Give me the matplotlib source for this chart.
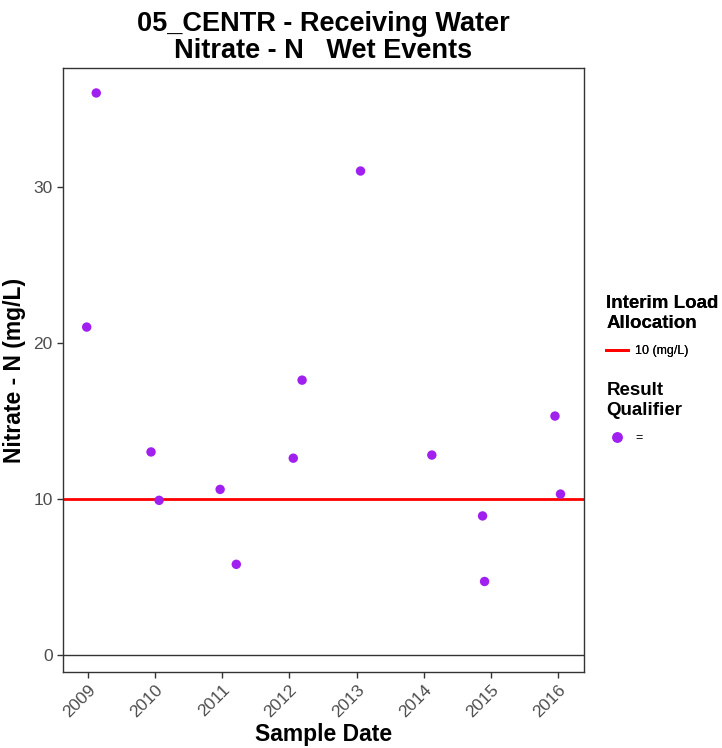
import matplotlib
matplotlib.use("Agg")
import matplotlib.pyplot as plt
import matplotlib.dates as mdates
from matplotlib.lines import Line2D
import pandas as pd

plt.rcParams['font.family'] = ['Liberation Sans', 'DejaVu Sans']

dates = ['2008-12-24', '2009-02-14', '2009-12-09', '2010-01-22', '2010-12-20',
         '2011-03-18', '2012-01-22', '2012-03-10', '2013-01-22', '2014-02-14',
         '2014-11-17', '2014-11-28', '2015-12-16', '2016-01-15']
values = [21.0, 36.0, 13.0, 9.9, 10.6, 5.8, 12.6, 17.6, 31.0, 12.8, 8.9, 4.7, 15.3, 10.3]
limit_value = 10
yticks = [0, 10, 20, 30]
years = list(range(2009, 2017))

x = pd.to_datetime(dates)

fig = plt.figure(figsize=(7.22, 7.48), dpi=100)
ax = fig.add_axes([63/722, 1-672/748, (584-63)/722, (672-68)/748])

ax.axhline(0, color='#333333', lw=1.0, zorder=1)
ax.axhline(limit_value, color='#FF0000', lw=2.0, zorder=2)
ax.scatter(x, values, s=46, color='#A020F0', zorder=3, edgecolors='none')

ax.set_xlim(pd.Timestamp('2008-08-17'), pd.Timestamp('2016-05-22'))
ax.set_ylim(-1.1, 37.6)
ax.set_yticks(yticks)
ax.set_xticks([pd.Timestamp(f'{y}-01-01') for y in years])
ax.set_xticklabels([str(y) for y in years], rotation=45, ha='right', rotation_mode='anchor')
ax.tick_params(axis='both', colors='#333333', labelcolor='#4D4D4D', labelsize=12.5, length=4, width=1)
for s in ax.spines.values():
    s.set_color('#333333')
    s.set_linewidth(1.0)

ax.set_xlabel('Sample Date', fontsize=16.5, fontweight='bold', labelpad=2)
ax.set_ylabel('Nitrate - N (mg/L)', fontsize=16.5, fontweight='bold', labelpad=5)
ax.set_title('05_CENTR - Receiving Water\nNitrate - N   Wet Events', fontsize=19.5,
             fontweight='bold', pad=7, linespacing=1.05)

h1 = [Line2D([0], [0], color='#FF0000', lw=2.0)]
leg1 = fig.legend(h1, ['10 (mg/L)'], title='Interim Load\nAllocation',
                  loc='upper left', bbox_to_anchor=(590/722, 1-279/748), frameon=False,
                  fontsize=9, title_fontproperties={'weight': 'bold', 'size': 13.5},
                  handlelength=1.7, handletextpad=0.6, alignment='left', borderpad=0.8,
                  labelspacing=1.05)
h2 = [Line2D([0], [0], marker='o', color='#A020F0', lw=0, markersize=6.8)]
leg2 = fig.legend(h2, ['='], title='Result\nQualifier',
                  loc='upper left', bbox_to_anchor=(590/722, 1-366/748), frameon=False,
                  fontsize=9, title_fontproperties={'weight': 'bold', 'size': 13.5},
                  handlelength=1.7, handletextpad=0.6, alignment='left', borderpad=0.8,
                  labelspacing=1.05)
fig.add_artist(leg1)

fig.savefig('out.png', dpi=100)
